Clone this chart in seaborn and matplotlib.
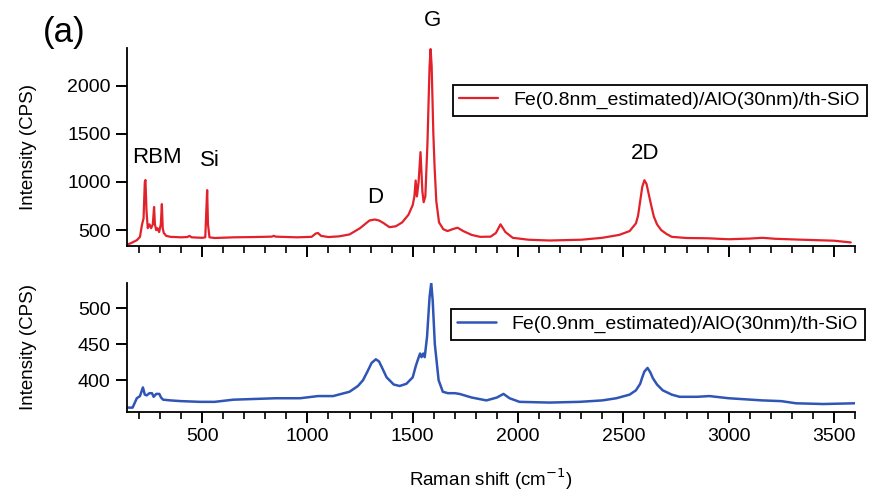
import pandas as pd
import seaborn as sns
from matplotlib import pyplot as plt

# Raman spectra (shift in cm-1, intensity in CPS)
red_shift = [150, 160, 190, 205, 215, 222, 228, 231, 236, 242, 250, 258, 266, 272, 276, 282, 288, 296, 304, 309,
             313, 318, 330, 350, 400, 430, 440, 450, 500, 515, 520, 524, 528, 535, 560, 650, 750, 830, 840, 850,
             950, 1020, 1040, 1050, 1065, 1100, 1150, 1200, 1250, 1275, 1295, 1320, 1340, 1360, 1390, 1420, 1450,
             1480, 1500, 1508, 1514, 1520, 1528, 1537, 1546, 1552, 1560, 1570, 1580, 1585, 1590, 1598, 1604, 1612,
             1625, 1645, 1665, 1690, 1713, 1740, 1780, 1820, 1870, 1895, 1917, 1940, 1975, 2050, 2150, 2300, 2400,
             2480, 2530, 2560, 2570, 2580, 2590, 2600, 2610, 2620, 2632, 2645, 2660, 2680, 2705, 2730, 2800, 2900,
             3000, 3100, 3160, 3220, 3350, 3500, 3580]
red_cps = [355, 362, 395, 430, 560, 620, 1000, 1020, 700, 520, 560, 520, 560, 740, 560, 500, 520, 480, 560, 770,
           520, 470, 440, 430, 425, 428, 440, 425, 420, 425, 700, 915, 560, 425, 418, 425, 428, 432, 440, 432,
           425, 430, 465, 470, 440, 428, 435, 455, 520, 565, 600, 610, 600, 575, 530, 540, 580,
           660, 760, 850, 1015, 850, 1000, 1310, 900, 790, 850, 1400, 2200, 2380, 2200, 1500, 1150, 800,
           580, 510, 490, 510, 525, 490, 450, 430, 432, 470, 560, 480, 420, 400, 392, 400, 420,
           450, 490, 570, 650, 800, 950, 1018, 980, 880, 760, 640, 560, 500, 460, 430, 418, 415,
           405, 412, 420, 410, 400, 390, 372]

blue_shift = [150, 170, 190, 205, 219, 228, 237, 250, 262, 270, 282, 297, 305, 315, 350, 400, 490, 560, 648, 750,
              850, 965, 1050, 1122, 1200, 1240, 1264, 1285, 1305, 1325, 1340, 1355, 1376, 1410, 1438, 1470, 1500,
              1515, 1524, 1535, 1542, 1550, 1557, 1568, 1580, 1588, 1595, 1605, 1623, 1643, 1667, 1700, 1722, 1780,
              1850, 1900, 1931, 1960, 2007, 2150, 2292, 2400, 2467, 2530, 2560, 2580, 2590, 2600, 2615, 2628, 2640,
              2660, 2687, 2730, 2767, 2850, 2909, 3000, 3160, 3250, 3320, 3450, 3600]
blue_cps = [362, 362, 375, 378, 390, 380, 379, 382, 382, 377, 381, 381, 376, 373, 372, 371, 370, 370, 373, 374,
            375, 375, 378, 378, 384, 392, 400, 412, 424, 429, 426, 417, 404, 394, 392, 395, 404,
            420, 428, 437, 432, 437, 432, 460, 515, 535, 510, 450, 400, 384, 382, 382, 381, 376,
            372, 376, 381, 375, 370, 369, 370, 372, 375, 380, 386, 395, 404, 412, 417, 411, 403,
            394, 386, 380, 377, 377, 378, 375, 372, 371, 368, 367, 368]

red_label = 'Fe(0.8nm_estimated)/AlO(30nm)/th-SiO'
blue_label = 'Fe(0.9nm_estimated)/AlO(30nm)/th-SiO'

peak_names = ['RBM', 'Si', 'D', 'G', '2D']
peak_x = [287, 538, 1320, 1594, 2604]
peak_y = [1256, 1225, 840, 2674, 1297]

red_df = pd.DataFrame({'shift': red_shift, 'cps': red_cps})
blue_df = pd.DataFrame({'shift': blue_shift, 'cps': blue_cps})

sns.set_style('ticks')
plt.rcParams['font.family'] = ['Liberation Sans', 'DejaVu Sans']
plt.rcParams['axes.linewidth'] = 1.3
plt.rcParams['text.color'] = 'black'
plt.rcParams['axes.labelcolor'] = 'black'
plt.rcParams['xtick.color'] = 'black'
plt.rcParams['ytick.color'] = 'black'
plt.rcParams['axes.edgecolor'] = 'black'

fig = plt.figure(figsize=(8.86, 4.91), dpi=100)
ax1 = fig.add_axes([0.143, 0.499, 0.822, 0.403])
ax2 = fig.add_axes([0.143, 0.161, 0.822, 0.263])

sns.lineplot(data=red_df, x='shift', y='cps', ax=ax1, color='#e3212b', linewidth=1.6, label=red_label)
sns.lineplot(data=blue_df, x='shift', y='cps', ax=ax2, color='#2f55b5', linewidth=1.8, label=blue_label)

for ax in (ax1, ax2):
    sns.despine(ax=ax)
    ax.set_xlim(142, 3600)
    ax.set_xticks(range(500, 3501, 500))
    ax.set_xticks(range(200, 3601, 100), minor=True)
    ax.tick_params(axis='both', which='major', direction='out', length=8, width=1.4, labelsize=14)
    ax.tick_params(axis='x', which='minor', direction='out', length=5, width=1.2)
    ax.set_ylabel('Intensity (CPS)', fontsize=13.5)
    ax.yaxis.set_label_coords(-0.123, 0.5)
    ax.legend(loc='upper right', fancybox=False, edgecolor='black', framealpha=1,
              fontsize=14, borderpad=0.35, handlelength=2.0)

ax1.set_ylim(335, 2390)
ax1.set_yticks([500, 1000, 1500, 2000])
ax1.set_xlabel('')
ax1.tick_params(axis='x', labelbottom=False)
ax1.get_legend().set_bbox_to_anchor((1.03, 0.864))
ax1.get_legend().get_frame().set_linewidth(1.3)

ax2.set_ylim(356, 535)
ax2.set_yticks([400, 450, 500])
ax2.set_xlabel('Raman shift (cm$^{-1}$)', fontsize=13.5)
ax2.xaxis.set_label_coords(0.5, -0.42)
ax2.get_legend().set_bbox_to_anchor((1.027, 0.876))
ax2.get_legend().get_frame().set_linewidth(1.3)

for name, px, py in zip(peak_names, peak_x, peak_y):
    ax1.text(px, py, name, ha='center', va='center', fontsize=16, clip_on=False)

fig.text(0.073, 0.933, '(a)', ha='center', va='center', fontsize=25)

fig.savefig('out.png', dpi=100)
